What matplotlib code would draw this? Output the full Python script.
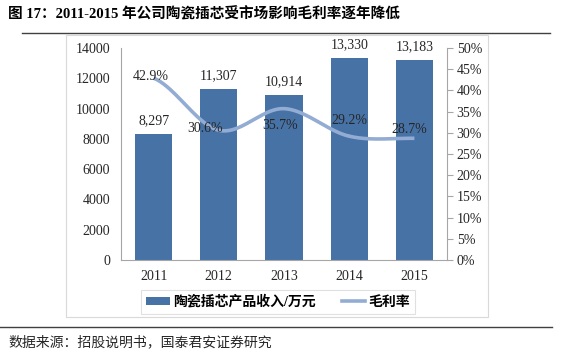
import numpy as np
import matplotlib
matplotlib.use("Agg")
import matplotlib.pyplot as plt
from matplotlib.lines import Line2D
from matplotlib.patches import Rectangle, Patch
from matplotlib.ticker import FuncFormatter

plt.rcParams['font.family'] = ['Liberation Serif', 'Noto Sans CJK SC']

years = ['2011', '2012', '2013', '2014', '2015']
revenue = [8297, 11307, 10914, 13330, 13183]
margin = [0.429, 0.306, 0.357, 0.292, 0.287]

title = "图 17：2011-2015 年公司陶瓷插芯受市场影响毛利率逐年降低"
source = "数据来源：招股说明书，国泰君安证券研究"
bar_name = "陶瓷插芯产品收入/万元"
line_name = "毛利率"

bar_color = '#4672A6'
line_color = '#93ACD3'
grey = '#A6A6A6'


def smooth(xs, ys, n=40):
    # Catmull-Rom curve through the points, like Excel's smoothed line
    xs = np.asarray(xs, float)
    ys = np.asarray(ys, float)
    px = np.concatenate([[2 * xs[0] - xs[1]], xs, [2 * xs[-1] - xs[-2]]])
    py = np.concatenate([[ys[0]], ys, [ys[-1]]])
    ox, oy = [], []
    for i in range(1, len(px) - 2):
        t = np.linspace(0, 1, n)
        for p, out in ((px, ox), (py, oy)):
            p0, p1, p2, p3 = p[i - 1], p[i], p[i + 1], p[i + 2]
            out.extend(0.5 * (2 * p1 + (-p0 + p2) * t
                              + (2 * p0 - 5 * p1 + 4 * p2 - p3) * t ** 2
                              + (-p0 + 3 * p1 - 3 * p2 + p3) * t ** 3))
    return np.array(ox), np.array(oy)


fig = plt.figure(figsize=(5.66, 3.51), dpi=100)
W, H = 566, 351


def fx(px):
    return px / W


def fy(py):
    return 1 - py / H


# title and rules
fig.text(fx(8), fy(14), title, fontsize=10.5, fontweight='bold', va='center', ha='left')
fig.add_artist(Line2D([fx(22), fx(550)], [fy(33), fy(33)], color='#404040', lw=1.0))
fig.add_artist(Rectangle((fx(66), fy(317)), fx(488 - 66), (317 - 35) / H,
                         fill=False, edgecolor='#D9D9D9', lw=0.8))
fig.add_artist(Line2D([fx(0), fx(552)], [fy(327), fy(327)], color='#404040', lw=1.0))
fig.text(fx(8), fy(342), source, fontsize=10, va='center', ha='left', color='#262626')

ax = fig.add_axes([fx(121), fy(260), fx(447 - 121), (260 - 48) / H])
x = np.arange(len(years))
ax.bar(x, revenue, width=0.57, color=bar_color, zorder=2)
ax.set_xlim(-0.5, len(years) - 0.5)
ax.set_ylim(0, 14000)
ax.set_yticks(np.arange(0, 14001, 2000))
ax.set_xticks(x)
ax.set_xticklabels(years)
ax.tick_params(axis='both', length=0, labelsize=10, colors='#262626')
ax.tick_params(axis='y', pad=8)
ax.tick_params(axis='x', pad=7)
for s in ['top', 'right']:
    ax.spines[s].set_visible(False)
for s in ['left', 'bottom']:
    ax.spines[s].set_color(grey)
for xi, v in zip(x, revenue):
    ax.annotate(f"{v:,}", (xi, v), xytext=(0, 5), textcoords='offset points',
                ha='center', va='bottom', fontsize=10, color='#262626')

ax2 = ax.twinx()
sx, sy = smooth(x, margin)
ax2.plot(sx, sy, color=line_color, lw=2.6, solid_capstyle='butt', zorder=3)
ax2.set_ylim(0, 0.5)
ax2.set_yticks(np.arange(0, 0.501, 0.05))
ax2.yaxis.set_major_formatter(FuncFormatter(lambda v, p: f"{v * 100:.0f}%"))
ax2.tick_params(axis='y', length=4, width=0.8, color=grey, labelsize=10,
                labelcolor='#262626', pad=3)
for s in ['top', 'left', 'bottom']:
    ax2.spines[s].set_visible(False)
ax2.spines['right'].set_color(grey)
offsets = [(-2, 1), (-10, 1), (-3, -12), (0, 11), (-4, 6)]
for xi, v, (dx, dy) in zip(x, margin, offsets):
    ax2.annotate(f"{v * 100:.1f}%", (xi, v), xytext=(dx, dy), textcoords='offset points',
                 ha='center', va='center', fontsize=10, color='#262626')

handles = [Patch(facecolor=bar_color), Line2D([0], [0], color=line_color, lw=2.6)]
leg = fig.legend(handles, [bar_name, line_name], loc='center',
                 bbox_to_anchor=(fx(278), fy(302)), ncol=2, frameon=True,
                 fancybox=False, edgecolor='#D9D9D9', handlelength=1.7,
                 handleheight=0.6, handletextpad=0.2, columnspacing=1.9,
                 prop={'size': 10, 'weight': 'bold'}, borderpad=0.35)
leg.get_frame().set_linewidth(0.8)

fig.savefig("out.png", dpi=100)
